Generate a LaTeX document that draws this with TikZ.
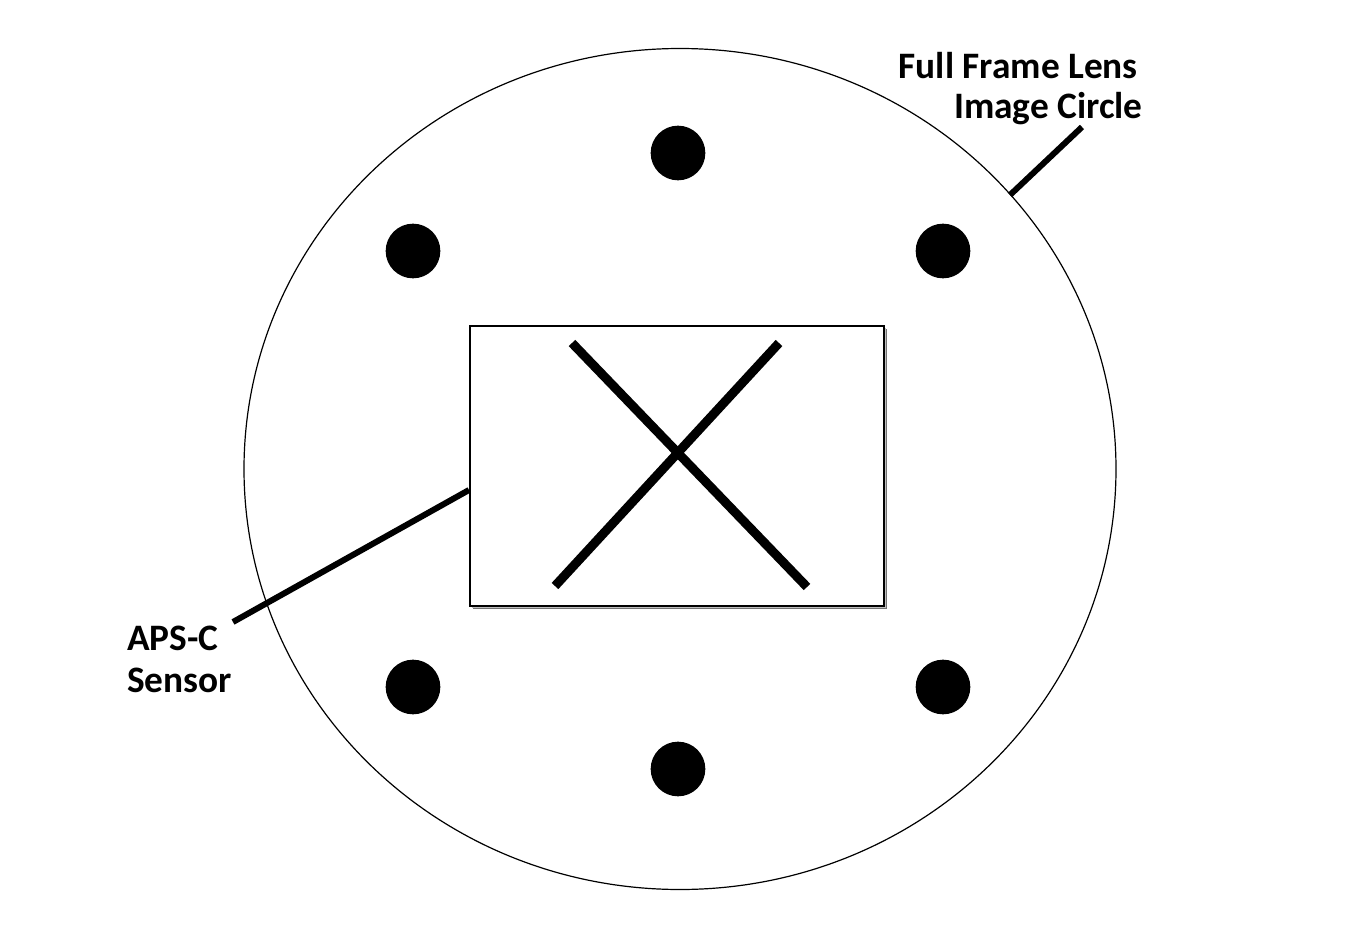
\documentclass[tikz,border=0pt]{standalone}
\usepackage{fontspec}
\setmainfont{Carlito}
\begin{document}
\begin{tikzpicture}[x=0.75pt,y=-0.75pt,
  dot/.style={circle,fill=black,inner sep=0pt,minimum size=41pt},
  lbl/.style={inner sep=0pt,font=\bfseries\fontsize{28}{32}\selectfont},
  leader/.style={line width=4.5pt},
  xline/.style={line width=6.8pt}]
\useasboundingbox (0,0) rectangle (1361,935);
\fill[white] (0,0) rectangle (1361,935);
% image circle
\draw[line width=0.9pt] (680,469) ellipse [x radius=436, y radius=420.5];
% dots
\node[dot] (d1) at (678,153) {};
\node[dot] (d2) at (413,251) {};
\node[dot] (d3) at (943,251) {};
\node[dot] (d4) at (413,687) {};
\node[dot] (d5) at (943,687) {};
\node[dot] (d6) at (678,769) {};
% sensor with shadow
\fill[black!55] (473,329) rectangle (887,609);
\fill[black!25] (472,328) rectangle (886,608);
\node[draw,fill=white,line width=0.8pt,inner sep=0pt,minimum width=310.5pt,minimum height=210pt] (sensor) at (677,466) {};
% X
\coordinate (x1a) at (572,343);
\coordinate (x1b) at (807,587);
\coordinate (x2a) at (779,343);
\coordinate (x2b) at (555,586);
\draw[xline] (x1a) -- (x1b);
\draw[xline] (x2a) -- (x2b);
% labels
\node[lbl,anchor=base east] (ffl) at (1138,78) {Full Frame Lens};
\node[lbl,anchor=base east] (ic) at (1143,118) {Image Circle};
\node[lbl,anchor=base west] (aps) at (127,650) {APS-C};
\node[lbl,anchor=base west] (sen) at (127,692) {Sensor};
% leaders
\coordinate (c1) at (1010,195);
\coordinate (c2) at (1082,127);
\draw[leader] (c1) -- (c2);
\coordinate (s1) at (233,622);
\coordinate (s2) at (469,490);
\draw[leader] (s1) -- (s2);
\end{tikzpicture}
\end{document}
